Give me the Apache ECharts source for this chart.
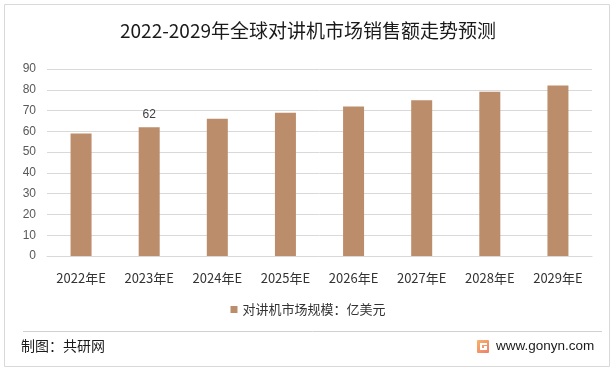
<!DOCTYPE html>
<html><head><meta charset="utf-8">
<script src="https://cdn.jsdelivr.net/npm/echarts@6/dist/echarts.min.js"></script>
<style>html,body{margin:0;padding:0;background:#fff}#c{width:616px;height:372px}</style>
</head><body><div id="c"></div>
<script>
const categories = ['2022年E','2023年E','2024年E','2025年E','2026年E','2027年E','2028年E','2029年E'];
const values = [59, 62, 66, 69, 72, 75, 79, 82];
const labelledIndex = [1];
const seriesName = '对讲机市场规模：亿美元';
const titleText = '2022-2029年全球对讲机市场销售额走势预测';
const sourceText = '制图：共研网';
const siteText = 'www.gonyn.com';

const FONT = '"Noto Sans CJK SC","Noto Sans",sans-serif';
const chart = echarts.init(document.getElementById('c'), null, {renderer:'canvas'});
chart.setOption({
  backgroundColor:'#fff',
  animation:false,
  title:{text:titleText,left:'center',top:16,textStyle:{fontFamily:FONT,fontSize:19,fontWeight:'normal',color:'#1a1a1a'}},
  grid:{left:47,right:24,top:69,bottom:116,containLabel:false},
  legend:{bottom:51,left:'center',itemWidth:7,itemHeight:7,itemGap:5,icon:'rect',
    textStyle:{fontFamily:FONT,fontSize:13,color:'#333'},data:[seriesName]},
  xAxis:{type:'category',data:categories,
    axisLine:{show:true,lineStyle:{color:'#d9d9d9'}},axisTick:{show:false},
    axisLabel:{fontFamily:FONT,fontSize:13,color:'#333',margin:16}},
  yAxis:{type:'value',min:0,max:90,interval:10,
    axisLine:{show:false},axisTick:{show:false},
    splitLine:{lineStyle:{color:'#d9d9d9'}},
    axisLabel:{fontFamily:'"Liberation Sans",sans-serif',fontSize:12,color:'#595959',margin:11}},
  series:[{name:seriesName,type:'bar',barWidth:21,itemStyle:{color:'#bc8d6b'},
    data:values.map((v,i)=>({value:v,label:{show:labelledIndex.includes(i),position:'top',distance:6,
      fontFamily:'"Liberation Sans",sans-serif',fontSize:12,color:'#404040'}}))}],
  graphic:[
    {type:'rect',shape:{x:4.5,y:4.5,width:605,height:362},style:{fill:'none',stroke:'#d9d9d9',lineWidth:1},silent:true},
    {type:'line',shape:{x1:23,y1:331.5,x2:602,y2:331.5},style:{stroke:'#d0d0d0',lineWidth:1}},
    {type:'text',left:21,top:339,style:{text:sourceText,fontFamily:FONT,fontSize:14,fill:'#1a1a1a'}},
    {type:'rect',shape:{x:477,y:340,width:12,height:13,r:1},style:{fill:new echarts.graphic.LinearGradient(0,0,1,1,[{offset:0,color:'#f7b26a'},{offset:1,color:'#ef7f6a'}])}},
    {type:'rect',shape:{x:480,y:343,width:7,height:2},style:{fill:'#fff'}},
    {type:'rect',shape:{x:480,y:343,width:2,height:7},style:{fill:'#fff'}},
    {type:'rect',shape:{x:480,y:348,width:7,height:2},style:{fill:'#fff'}},
    {type:'rect',shape:{x:484,y:346,width:3,height:2},style:{fill:'#fff'}},
    {type:'text',left:496,top:339,style:{text:siteText,fontFamily:'"Liberation Sans",sans-serif',fontSize:13.5,fill:'#1a1a1a'}}
  ]
});
</script></body></html>
